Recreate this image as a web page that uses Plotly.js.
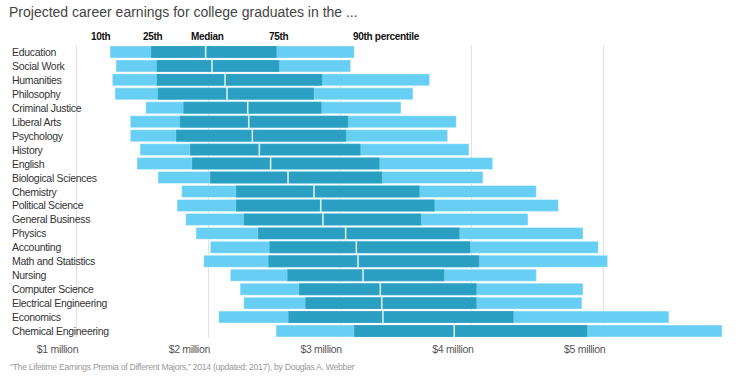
<!DOCTYPE html>
<html>
<head>
<meta charset="utf-8">
<script src="https://cdn.plot.ly/plotly-3.0.1.min.js"></script>
<style>
html,body{margin:0;padding:0;background:#fff;}
#chart{width:750px;height:380px;}
.annotation-text { letter-spacing: -0.3px; }
#chart .xtick text { letter-spacing: -0.3px; }
</style>
</head>
<body>
<div id="chart"></div>
<script>
const categories = ["Education","Social Work","Humanities","Philosophy","Criminal Justice","Liberal Arts","Psychology","History","English","Biological Sciences","Chemistry","Political Science","General Business","Physics","Accounting","Math and Statistics","Nursing","Computer Science","Electrical Engineering","Economics","Chemical Engineering"];
// values in $ millions
const p10 = [1.254,1.300,1.272,1.292,1.525,1.408,1.408,1.482,1.459,1.618,1.798,1.763,1.829,1.907,2.015,1.965,2.167,2.241,2.269,2.079,2.514];
const p25 = [1.565,1.608,1.608,1.616,1.810,1.783,1.755,1.861,1.876,2.013,2.210,2.210,2.269,2.377,2.463,2.455,2.599,2.688,2.736,2.607,3.105];
const p50 = [1.980,2.028,2.127,2.142,2.299,2.307,2.334,2.387,2.473,2.605,2.802,2.853,2.870,3.042,3.123,3.136,3.174,3.305,3.316,3.325,3.866];
const p75 = [2.519,2.539,2.865,2.802,2.860,3.062,3.047,3.156,3.300,3.320,3.604,3.718,3.616,3.907,3.988,4.056,3.791,4.036,4.036,4.317,4.876];
const p90 = [3.108,3.080,3.680,3.553,3.462,3.882,3.816,3.978,4.158,4.084,4.489,4.656,4.426,4.843,4.959,5.030,4.489,4.843,4.835,5.495,5.898];
const tickVals = [1,2,3,4,5];
const tickText = ["$1 million","$2 million","$3 million","$4 million","$5 million"];
const keyLabels = ["10th","25th","Median","75th","90th percentile"];
const titleText = "Projected career earnings for college graduates in the ...";
const sourceText = "\u201CThe Lifetime Earnings Premia of Different Majors,\u201D 2014 (updated: 2017), by Douglas A. Webber";

const FONT = "'Liberation Sans', Arial, sans-serif";
const LIGHT = "#66cff3";
const DARK = "#2a9fc1";
const PLOT_H = 294;

const outer = {
  type: "bar", orientation: "h", y: categories,
  base: p10, x: p90.map((v,i)=>v-p10[i]),
  marker: {color: LIGHT, line: {color: "rgba(255,255,255,0.4)", width: 1}},
  hoverinfo: "skip", showlegend: false
};
const inner = {
  type: "bar", orientation: "h", y: categories,
  base: p25, x: p75.map((v,i)=>v-p25[i]),
  marker: {color: DARK, line: {color: "rgba(255,255,255,0.15)", width: 1}},
  hoverinfo: "skip", showlegend: false
};
const med = {
  type: "scatter", mode: "markers", y: categories, x: p50,
  marker: {symbol: "line-ns", size: 11, line: {color: "rgba(225,240,246,0.95)", width: 1.6}},
  hoverinfo: "skip", showlegend: false
};
const keyVals = [p10[0], p25[0], p50[0], p75[0], p90[0]];
const keyMarks = {
  type: "scatter", mode: "markers", x: keyVals, y: keyVals.map(() => 1 + 1.8/PLOT_H),
  yaxis: "y2", cliponaxis: false,
  marker: {symbol: "triangle-down", size: 5, color: "#999"},
  hoverinfo: "skip", showlegend: false
};

const annotations = [];
categories.forEach(c => annotations.push({
  xref: "paper", yref: "y", x: 10/750, y: c, xanchor: "left", yanchor: "middle",
  text: c, showarrow: false, font: {family: FONT, size: 10.5, color: "#333"}
}));
const keyAnchor = ["right","center","center","center","left"];
const keyShift = [3, 2, 2, 2, -3];
keyLabels.forEach((t,i) => {
  annotations.push({
    xref: "x", yref: "paper", x: keyVals[i], y: 1 + (44.5-35.5)/PLOT_H, xanchor: keyAnchor[i], yanchor: "middle",
    xshift: keyShift[i], text: "<b>"+t+"</b>", showarrow: false, font: {family: FONT, size: 10, color: "#111"}
  });
});
annotations.push({
  xref: "paper", yref: "paper", x: 8/750, y: -(368-338.5)/PLOT_H, xanchor: "left", yanchor: "middle",
  text: sourceText, showarrow: false, font: {family: FONT, size: 8.7, color: "#999"}
});

const layout = {
  width: 750, height: 380,
  margin: {l: 0, r: 0, t: 44.5, b: 41.5, pad: 0},
  paper_bgcolor: "#fff", plot_bgcolor: "#fff",
  title: {
    text: titleText, xref: "container", yref: "container",
    x: 9/750, xanchor: "left", y: 1 - 12/380, yanchor: "middle",
    font: {family: FONT, size: 14, color: "#444"}
  },
  barmode: "overlay", bargap: 0.143,
  xaxis: {
    range: [1 - 76.5/131.8, 1 + 673.5/131.8],
    tickvals: tickVals, ticktext: tickText, ticks: "",
    showgrid: true, gridcolor: "#e2e2e2", gridwidth: 1, zeroline: false, showline: false,
    ticklabelshift: -19, ticklabelstandoff: 3,
    tickfont: {family: FONT, size: 10.5, color: "#555"}, fixedrange: true
  },
  yaxis: {
    type: "category", categoryorder: "array", categoryarray: categories,
    range: [categories.length - 0.5, -0.5],
    showticklabels: false, showgrid: false, zeroline: false, showline: false,
    fixedrange: true
  },
  yaxis2: {
    overlaying: "y", range: [0, 1], showticklabels: false, showgrid: false,
    zeroline: false, showline: false, fixedrange: true
  },
  annotations: annotations,
  showlegend: false
};

Plotly.newPlot("chart", [outer, inner, med, keyMarks], layout, {displayModeBar: false, staticPlot: true});
</script>
</body>
</html>
